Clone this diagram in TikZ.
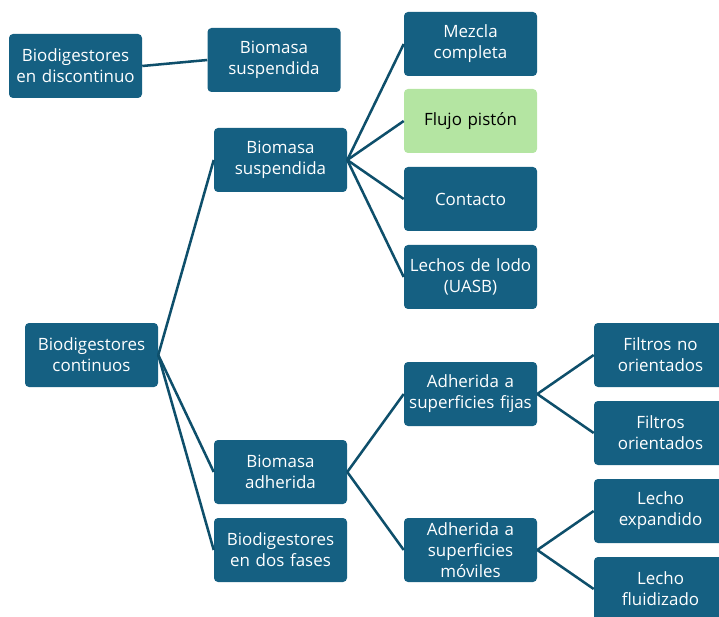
\documentclass[tikz,border=0pt]{standalone}
\usepackage{fontspec}
\setmainfont{Open Sans}
\definecolor{mBoxBlue}{HTML}{156082}
\definecolor{mLineBlue}{HTML}{0E4F6B}
\definecolor{mPaleGreen}{HTML}{B4E5A2}
\usetikzlibrary{positioning}

\begin{document}
\begin{tikzpicture}[x=0.75pt, y=-0.75pt,
  font=\fontsize{12.7}{15.6}\selectfont,
  box/.style={rectangle, rounded corners=3pt, fill=mBoxBlue, text=white,
    minimum width=99.75pt, minimum height=48pt, inner sep=0pt,
    text width=97pt, align=center},
  greenbox/.style={box, fill=mPaleGreen, text=black},
  link/.style={mLineBlue, line width=1.9pt}]
\useasboundingbox (0,0) rectangle (719,617);
\clip (0,0) rectangle (719,617);
% batch branch
\node[box] (discont) at (75.5,66) {Biodigestores\\en discontinuo};
\node[box] (suspA) at (274,60) {Biomasa\\suspendida};
% continuous branch
\node[box] (cont) at (91.5,355) {Biodigestores\\continuos};
\node[box] (suspB) at (280.5,160) {Biomasa\\suspendida};
\node[box] (adher) at (280.5,472) {Biomasa\\adherida};
\node[box] (fases) at (280.5,550) {Biodigestores\\en dos fases};
% suspended biomass types
\node[box] (mezcla) at (470.5,44) {Mezcla\\completa};
\node[greenbox] (piston) at (470.5,121) {Flujo pistón};
\node[box] (contacto) at (470.5,199) {Contacto};
\node[box] (uasb) at (470.5,277) {Lechos de lodo\\(UASB)};
% attached biomass types
\node[box] (fijas) at (470.5,394) {Adherida a\\superficies fijas};
\node[box] (moviles) at (470.5,550) {Adherida a\\superficies\\móviles};
\node[box] (filtNo) at (660.5,355) {Filtros no\\orientados};
\node[box] (filtOr) at (660.5,433) {Filtros\\orientados};
\node[box] (expand) at (660.5,511) {Lecho\\expandido};
\node[box] (fluid) at (660.5,589) {Lecho\\fluidizado};
% connectors
\draw[link] (discont.east) -- (suspA.west);
\foreach \child in {suspB, adher, fases}
  \draw[link] (cont.east) -- (\child.west);
\foreach \child in {mezcla, piston, contacto, uasb}
  \draw[link] (suspB.east) -- (\child.west);
\foreach \child in {fijas, moviles}
  \draw[link] (adher.east) -- (\child.west);
\foreach \child in {filtNo, filtOr}
  \draw[link] (fijas.east) -- (\child.west);
\foreach \child in {expand, fluid}
  \draw[link] (moviles.east) -- (\child.west);
\end{tikzpicture}
\end{document}
